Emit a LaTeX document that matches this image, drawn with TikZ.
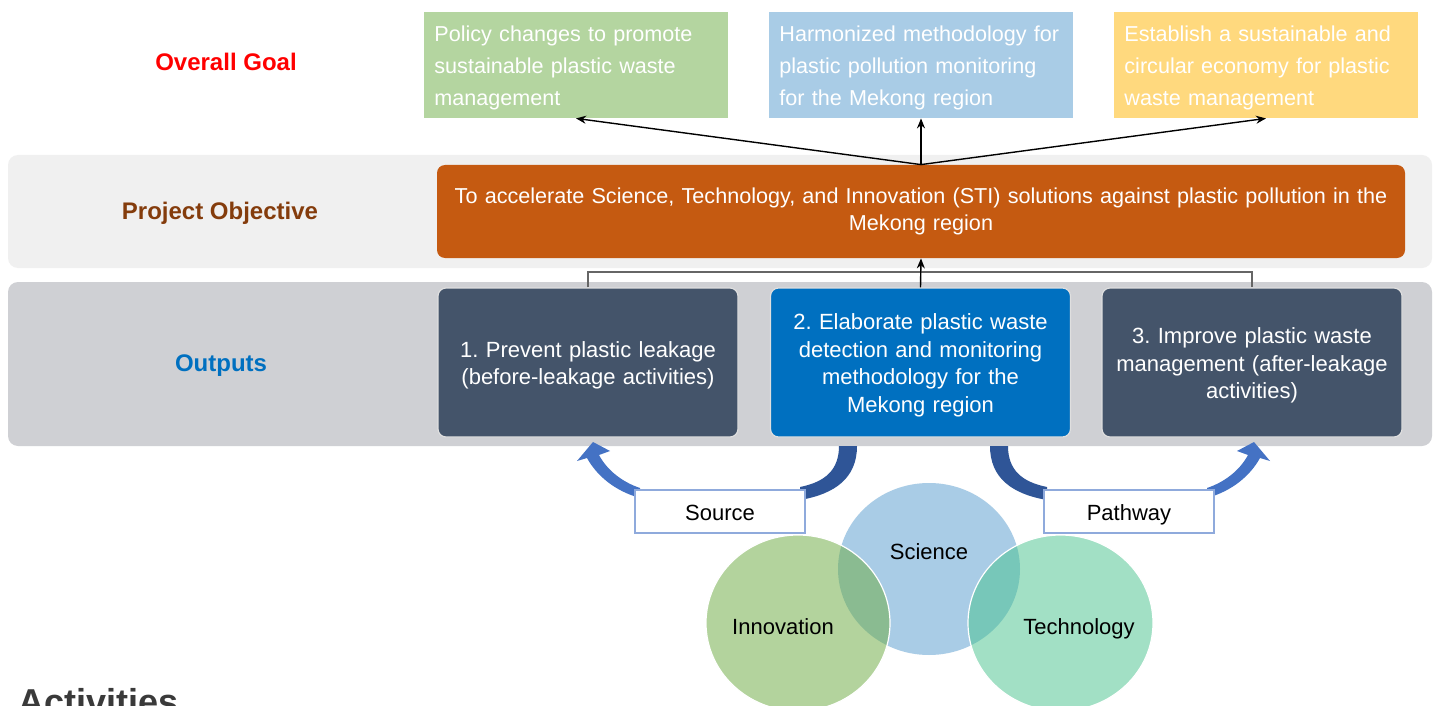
\documentclass[tikz,border=0pt]{standalone}
\usepackage{fontspec}
\setmainfont{Liberation Sans}
\usetikzlibrary{arrows.meta,shapes.geometric}
\frenchspacing
\definecolor{goalgreen}{HTML}{B4D5A0}
\definecolor{goalblue}{HTML}{A9CCE6}
\definecolor{goalyellow}{HTML}{FFD97E}
\definecolor{objorange}{HTML}{C55A11}
\definecolor{bandlight}{HTML}{F0F0F0}
\definecolor{bandgray}{HTML}{CFD0D4}
\definecolor{outdark}{HTML}{44546A}
\definecolor{outblue}{HTML}{0070C0}
\definecolor{lblred}{HTML}{FF0000}
\definecolor{lblbrown}{HTML}{843C0C}
\definecolor{lblblue}{HTML}{0070C0}
\definecolor{arrdark}{HTML}{2F5597}
\definecolor{arrlight}{HTML}{4472C4}
\definecolor{labelborder}{HTML}{8FAADC}
\definecolor{innogreen}{HTML}{70AD47}
\definecolor{scienceblue}{HTML}{A9CCE6}
\definecolor{techgreen}{HTML}{47C38D}
\definecolor{actgray}{HTML}{3A3A3A}
\tikzset{
  goalbox/.style={rectangle, inner sep=0pt, minimum width=152pt, minimum height=53pt},
  goaltext/.style={inner sep=0pt, text width=165pt, align=left, text=white, font=\fontsize{10.8}{16}\selectfont},
  rowlabel/.style={font=\bfseries\fontsize{12}{14}\selectfont, inner sep=0pt},
  outbox/.style={rectangle, rounded corners=4pt, draw=white!75!gray, line width=0.6pt,
    minimum width=150pt, minimum height=74.5pt, inner sep=0pt},
  outtext/.style={text width=148pt, align=center, text=white, font=\fontsize{11}{13.75}\selectfont, inner sep=0pt},
  tagbox/.style={rectangle, draw=labelborder, line width=0.8pt, fill=white,
    minimum width=85pt, minimum height=21.5pt, inner sep=0pt},
  tagtext/.style={font=\fontsize{11}{13}\selectfont, inner sep=0pt},
  venn/.style={ellipse, inner sep=0pt},
  venntext/.style={font=\fontsize{11}{13}\selectfont, inner sep=0pt, text height=8pt, text depth=2.3pt},
  thinarrow/.style={-{Stealth[length=5pt,width=4pt]}, line width=0.7pt, black},
}
\begin{document}
\begin{tikzpicture}[x=0.5pt,y=-0.5pt]
\useasboundingbox (0,0) rectangle (1441,706);
\fill[white] (0,0) rectangle (1441,706);

% bands
\fill[bandlight, rounded corners=5pt] (8,155) rectangle (1432,268);
\fill[bandgray, rounded corners=5pt] (8,282) rectangle (1432,446);

% row labels
\node[rowlabel, text=lblred] (lgoal) at (226,62) {Overall Goal};
\node[rowlabel, text=lblbrown] (lobj) at (220,213) {Project Objective};
\node[rowlabel, text=lblblue] (lout) at (221,366) {Outputs};

% goal boxes
\node[goalbox, fill=goalgreen] (g1) at (576,65) {};
\node[goalbox, fill=goalblue] (g2) at (921,65) {};
\node[goalbox, fill=goalyellow] (g3) at (1266,65) {};
\node[goaltext, anchor=west] (g1t) at (434,68) {Policy changes to promote\\sustainable plastic waste\\management};
\node[goaltext, anchor=west] (g2t) at (779,68) {Harmonized methodology for\\plastic pollution monitoring\\for the Mekong region};
\node[goaltext, anchor=west] (g3t) at (1124,68) {Establish a sustainable and\\circular economy for plastic\\waste management};

% objective
\node[rectangle, rounded corners=4pt, fill=objorange, minimum width=484pt, minimum height=46.5pt,
  text width=480pt, align=center, text=white, inner sep=0pt, font=\fontsize{10.8}{13.5}\selectfont]
  (obj) at (921,211.5) {To accelerate Science, Technology, and Innovation (STI) solutions against plastic pollution in the\\Mekong region};

% outputs
\node[outbox, fill=outdark] (o1) at (588,362.5) {};
\node[outbox, fill=outblue] (o2) at (920.5,362.5) {};
\node[outbox, fill=outdark] (o3) at (1252,362.5) {};
\node[outtext] (o1t) at (588,365.5) {1. Prevent plastic leakage\\(before-leakage activities)};
\node[outtext] (o2t) at (920.5,365.5) {2. Elaborate plastic waste\\detection and monitoring\\methodology for the\\Mekong region};
\node[outtext] (o3t) at (1252,365.5) {3. Improve plastic waste\\management (after-leakage\\activities)};

% goal arrows
\draw[thinarrow] (obj.north) -- (g1.south);
\draw[thinarrow] (obj.north) -- (g2.south);
\draw[thinarrow] (obj.north) -- (g3.south);

% outputs bracket
\draw[line width=0.7pt, gray!80!black] (o1.north) -- (o1.north |- 0,272) -- (o3.north |- 0,272) -- (o3.north);
\draw[thinarrow] (o2.north) -- (obj.south);

% curved arrows (left)
\fill[arrdark] (839,446) -- (857,446) .. controls (857,478) and (835,494) .. (800,500)
  -- (800,487) .. controls (825,482) and (839,470) .. (839,446) -- cycle;
\fill[arrlight] (640,498) .. controls (615,491) and (597,476) .. (587,458) -- (577,461) -- (593,442)
  -- (610,451) -- (599,455) .. controls (607,470) and (622,482) .. (640,488) -- cycle;
% curved arrows (right)
\fill[arrdark] (1008,446) -- (990,446) .. controls (990,478) and (1012,494) .. (1047,500)
  -- (1047,487) .. controls (1022,482) and (1008,470) .. (1008,446) -- cycle;
\fill[arrlight] (1207,498) .. controls (1232,491) and (1250,476) .. (1260,458) -- (1270,461) -- (1254,442)
  -- (1237,451) -- (1248,455) .. controls (1240,470) and (1225,482) .. (1207,488) -- cycle;

\node[tagbox] (src) at (720,511.5) {};
\node[tagbox] (pth) at (1129,511.5) {};
\node[venntext] (srct) at (720,515) {Source};
\node[venntext] (ptht) at (1129,515) {Pathway};

% venn
\node[venn, fill=scienceblue, minimum width=91pt, minimum height=86pt] (sci) at (929,569) {};
\node[venn, fill=innogreen, fill opacity=0.53, draw=white, line width=0.6pt, minimum width=92pt, minimum height=88pt] (inn) at (798,623) {};
\node[venn, fill=techgreen, fill opacity=0.5, draw=white, line width=0.6pt, minimum width=92.5pt, minimum height=88pt] (tec) at (1060.5,623) {};
\node[venntext] (tsci) at (929,554) {Science};
\node[venntext] (tinn) at (783,629) {Innovation};
\node[venntext] (ttec) at (1079,629) {Technology};

% cut-off heading (cut by the lower edge, as in the reference)
\node[anchor=base west, inner sep=0pt, text=actgray, font=\bfseries\fontsize{18}{18}\selectfont] (act) at (18,714) {Activities};
\end{tikzpicture}
\end{document}
